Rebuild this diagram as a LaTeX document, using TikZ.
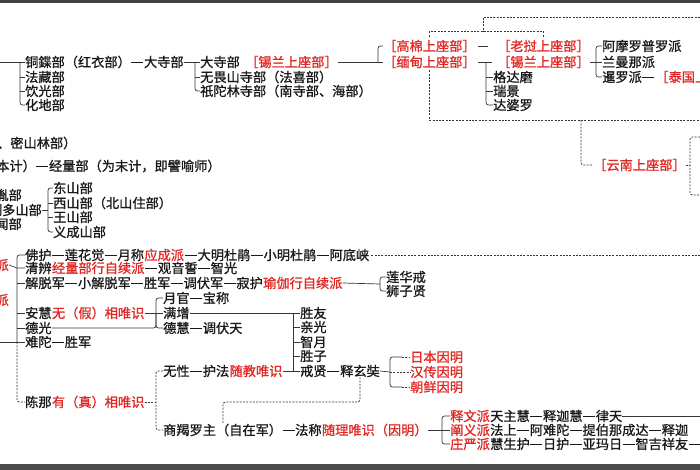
\documentclass[tikz,border=0pt]{standalone}
\usepackage{fontspec}
\newfontfamily\cjk{Noto Sans CJK SC}[FakeBold=1]
\newcommand\zdash{\makebox[1em]{\rule[0.33em]{0.9em}{0.075em}}}
\definecolor{hr}{RGB}{225,40,36}
\definecolor{tx}{RGB}{25,25,25}
\definecolor{lncol}{RGB}{55,55,55}
\tikzset{
  t/.style={font=\cjk\fontsize{13.2}{14}\selectfont, text=tx, inner sep=0pt, anchor=west},
  r/.style={t, text=hr},
  ln/.style={draw=lncol, line width=0.7pt},
  dl/.style={ln, dash pattern=on 2pt off 1.3pt},
  rc/.style={rounded corners=2.5pt},
}
\begin{document}
\begin{tikzpicture}[x=1pt,y=-1pt]
\useasboundingbox (0,0) rectangle (700,470);
\clip (0,0) rectangle (700,470);
\fill[white] (0,0) rectangle (700,470);
\fill[black!75] (0,0) rectangle (700,3);
\fill[black!70] (0,464) rectangle (700,470);

% ---------- top left
\node[t] (tq) at (25,62) {铜鍱部（红衣部）\zdash 大寺部};
\node[t] (fz) at (25,77) {法藏部};
\node[t] (yg) at (25,91) {饮光部};
\node[t] (hd) at (25,105) {化地部};
\coordinate (tqin) at (0,62);
\draw[ln] (tqin) -- (tq.west);
\draw[ln,rc] ([xshift=-5pt]tq.west) |- (hd.west);
\draw[ln] ([xshift=-5pt]fz.west) -- (fz.west);
\draw[ln] ([xshift=-5pt]yg.west) -- (yg.west);
\node[t,anchor=east] (p1) at (9,97) {）};
\node[t,anchor=east] (p2) at (9,111) {）};

\node[t] (dsb) at (200,62) {大寺部};
\node[r] (sl1) at (245,62) {［锡兰上座部］};
\node[t] (wws) at (200,77) {无畏山寺部（法喜部）};
\node[t] (ztl) at (200,91) {祇陀林寺部（南寺部、海部）};
\draw[ln] (tq.east) -- (dsb.west);
\draw[ln,rc] ([xshift=-5pt]dsb.west) |- (ztl.west);
\draw[ln] ([xshift=-5pt]wws.west) -- (wws.west);

\node[r] (gm) at (383,46) {［高棉上座部］};
\node[r] (mm) at (383,62) {［缅甸上座部］};
\node[r] (lw) at (497,46) {［老挝上座部］};
\node[r] (sl2) at (497,62) {［锡兰上座部］};
\draw[ln] (sl1.east) -- (mm.west);
\draw[ln,rc] ([xshift=-5pt]mm.west) |- (gm.west);
\draw[ln] ([xshift=-19pt]lw.west) -- ([xshift=-9pt]lw.west);
\draw[ln] ([xshift=-19pt]sl2.west) -- ([xshift=-5pt]sl2.west);
\coordinate (mj) at (486,62);
\node[t] (gdm) at (493,77) {格达磨};
\node[t] (rj) at (493,91) {瑞景};
\node[t] (dpl) at (493,105) {达婆罗};
\draw[ln,rc] (mj) |- (dpl.west);
\draw[ln] (mj |- gdm.west) -- (gdm.west);
\draw[ln] (mj |- rj.west) -- (rj.west);

\node[t] (amr) at (602,46) {阿摩罗普罗派};
\node[t] (lmn) at (602,62) {兰曼那派};
\node[t] (xl) at (602,77) {暹罗派\zdash};
\node[r,anchor=west] (tg) at (xl.east) {［泰国上座部］};
\coordinate (sj) at (596,62);
\draw[ln] (sl2.east) -- (lmn.west);
\draw[ln,rc] (amr.west) -| (sj) |- (xl.west);

% dashed top links
\coordinate (tr1) at (700,17);
\coordinate (tj) at (483,32);
\draw[dl] (tr1) -| (tj);
\draw[dl] ([yshift=3pt]gm.north) -- ([yshift=8pt]gm.north) -- ([yshift=8pt]lw.north) -- ([yshift=3pt]lw.north);
\coordinate (re1) at (700,120);
\draw[dl] ([yshift=-2pt]mm.south) |- (re1);
\coordinate (yd) at (581,120);
\node[r] (yn) at (593,165) {［云南上座部］};
\draw[dl,rc] (yd) |- (yn.west);
\coordinate (rb1) at (700,137);
\coordinate (rb2) at (700,195);
\coordinate (rbj) at (690,165);
\draw[dl,rc] (rb1) -| (rbj) |- (rb2);
\draw[dl] (yn.east) -- (rbj);

% ---------- left middle
\node[t] (mls) at (-3,143) {、密山林部）};
\node[t] (jlb) at (-4,166) {本计）\zdash 经量部（为末计，即譬喻师）};
\node[t,anchor=east] (jy) at (22,195) {鸡胤部};
\node[t,anchor=east] (zds) at (42,210) {制多山部};
\node[t,anchor=east] (dw) at (22,224) {多闻部};
\node[t] (ds) at (53,188) {东山部};
\node[t] (xs) at (53,203) {西山部（北山住部）};
\node[t] (ws) at (53,217) {王山部};
\node[t] (yc) at (53,232) {义成山部};
\coordinate (zj) at (48,210);
\draw[ln] (zds.east) -- (zj);
\draw[ln,rc] (ds.west) -| (zj) |- (yc.west);
\draw[ln] (zj |- xs.west) -- (xs.west);
\draw[ln] (zj |- ws.west) -- (ws.west);

% ---------- lower section
\node[r,anchor=east] (zgp) at (9,265) {中观派};
\node[r,anchor=east] (wsp) at (9,300) {唯识派};

\node[t] (fh) at (25,255) {佛护\zdash 莲花觉\zdash 月称};
\node[r] (ycp) at (fh.east) {应成派};
\node[t] (dm) at (ycp.east) {\zdash 大明杜鹃\zdash 小明杜鹃\zdash 阿底峡};
\coordinate (re2) at (700,255);
\draw[dl] ([xshift=2pt]dm.east) -- (re2);

\node[t] (qb) at (25,268) {清辨};
\node[r] (jlx) at (qb.east) {经量部行自续派};
\node[t] (gy) at (jlx.east) {\zdash 观音誓\zdash 智光};

\node[t] (jtj) at (25,283) {解脱军\zdash 小解脱军\zdash 胜军\zdash 调伏军\zdash 寂护};
\node[r] (yjx) at (jtj.east) {瑜伽行自续派};
\node[t] (lhj) at (386,277) {莲华戒};
\node[t] (szx) at (386,291) {狮子贤};
\coordinate (yj) at (380,284);
\draw[ln] (yjx.east) -- (yj);
\draw[ln,rc] (lhj.west) -| (yj) |- (szx.west);

\node[t] (ah) at (25,313) {安慧};
\node[r] (wjx) at (ah.east) {无（假）相唯识};
\node[t] (yg2) at (163,298) {月官\zdash 宝称};
\node[t] (mz) at (163,313) {满增};
\node[t] (dh) at (163,328) {德慧\zdash 调伏天};
\coordinate (aj) at (156,313);
\draw[ln] (wjx.east) -- (mz.west);
\draw[ln,rc] (yg2.west) -| (aj) |- (dh.west);
\node[t] (dg) at (25,328) {德光};
\draw[ln,rc] (dg.east) -| (aj);
\node[t] (nt) at (25,342) {难陀\zdash 胜军};
\coordinate (lin) at (0,342);
\draw[ln] (lin) -- (nt.west);

\node[t] (cn) at (25,402) {陈那};
\node[r] (yzx) at (cn.east) {有（真）相唯识};

\coordinate (lj) at (17,342);
\draw[ln,rc] (fh.west) -| (lj);
\draw[dl,rc] (lj) |- (cn.west);
\draw[ln] (zgp.east) -- (lj |- qb.west) -- (qb.west);
\draw[ln] (lj |- jtj.west) -- (jtj.west);
\draw[ln] (lj |- ah.west) -- (ah.west);
\draw[ln] (lj |- dg.west) -- (dg.west);

\node[t] (sy) at (300,313) {胜友};
\node[t] (qg) at (300,327) {亲光};
\node[t] (zy) at (300,342) {智月};
\node[t] (sz) at (300,356) {胜子};
\node[t] (jx) at (300,371) {戒贤\zdash};
\node[t] (xz) at (jx.east) {释玄奘};
\coordinate (sj2) at (293,313);
\draw[ln] (mz.east) -- (sy.west);
\draw[ln] (sj2) -- (sj2 |- jx.west);
\draw[ln] (sj2 |- qg.west) -- (qg.west);
\draw[ln] (sj2 |- zy.west) -- (zy.west);
\draw[ln] (sj2 |- sz.west) -- (sz.west);

\node[t] (wx) at (163,371) {无性\zdash 护法};
\node[r] (sjw) at (wx.east) {随教唯识};
\draw[ln] (sjw.east) -- (jx.west);
\node[t] (sjl) at (163,430) {商羯罗主（自在军）\zdash 法称};
\node[r] (slw) at (sjl.east) {随理唯识（因明）};
\coordinate (cj) at (156,402);
\draw[dl] (yzx.east) -- (cj);
\draw[dl,rc] (wx.west) -| (cj) |- (sjl.west);

\node[r] (rb) at (410,357) {日本因明};
\node[r] (hc) at (410,372) {汉传因明};
\node[r] (cx) at (410,387) {朝鲜因明};
\coordinate (xj) at (390,372);
\draw[ln] (xz.east) -- (xj);
\draw[ln,rc] ([xshift=-8pt]rb.west) -| (xj) |- ([xshift=-8pt]cx.west);
\draw[dl] ([xshift=-8pt]rb.west) -- (rb.west);
\draw[dl] (xj) -- (hc.west);
\draw[dl] ([xshift=-8pt]cx.west) -- (cx.west);

\coordinate (zzj) at (223,402);
\coordinate (zze) at (223,423);
\draw[dl,rc] (xz.south) |- (zzj) -- (zze);

\coordinate (bj) at (442,430);
\draw[ln] (slw.east) -- (bj);
\node[r] (swp) at (450,416) {释文派};
\node[t] (tzh) at (swp.east) {天主慧\zdash 释迦慧\zdash 律天};
\coordinate (re3) at (700,416);
\draw[ln] (tzh.east) -- (re3);
\node[r] (cyp) at (450,430) {阐义派};
\node[t] (fs) at (cyp.east) {法上\zdash 阿难陀\zdash 提伯那成达\zdash 释迦};
\node[r] (zyp) at (450,444) {庄严派};
\node[t] (hsh) at (zyp.east) {慧生护\zdash 日护\zdash 亚玛日\zdash 智吉祥友\zdash};
\draw[ln,rc] (swp.west) -| (bj) |- (zyp.west);
\draw[ln] (bj) -- (cyp.west);
\end{tikzpicture}
\end{document}
